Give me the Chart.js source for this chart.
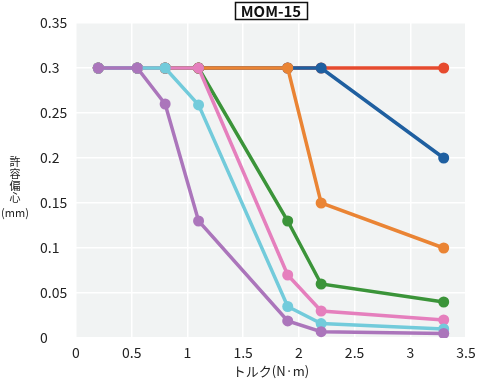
<!DOCTYPE html>
<html>
<head>
<meta charset="utf-8">
<script src="https://cdn.jsdelivr.net/npm/chart.js@4.4.1/dist/chart.umd.min.js"></script>
<style>
html,body{margin:0;padding:0;background:#fff;}
#wrap{position:relative;width:477px;height:381px;}
</style>
</head>
<body>
<div id="wrap"><canvas id="c" width="477" height="381"></canvas></div>
<script>
const torque = [0.2, 0.55, 0.8, 1.1, 1.9, 2.2, 3.3];
const seriesNames = ['A', 'B', 'C', 'D', 'E', 'F', 'G'];
const purpleVals = [0.3, 0.3, 0.26, 0.13, 0.019, 0.007, 0.005];
const cyanVals   = [0.3, 0.3, 0.3, 0.259, 0.035, 0.016, 0.01];
const pinkVals   = [0.3, 0.3, 0.3, 0.3, 0.07, 0.03, 0.02];
const greenVals  = [0.3, 0.3, 0.3, 0.3, 0.13, 0.06, 0.04];
const orangeVals = [0.3, 0.3, 0.3, 0.3, 0.3, 0.15, 0.1];
const blueVals   = [0.3, 0.3, 0.3, 0.3, 0.3, 0.3, 0.2];
const redVals    = [0.3, 0.3, 0.3, 0.3, 0.3, 0.3, 0.3];
const chartTitle = 'MOM-15';
const xTitle = 'トルク(N·m)';
const yTitleChars = ['許', '容', '偏', '心', '(mm)'];

const FONT = "'Noto Sans CJK JP', 'Noto Sans', sans-serif";
const colors = ['#ab75bb', '#72cbdb', '#e57fbd', '#3b9439', '#ea8434', '#1f5fa0', '#e64a2e'];
const allVals = [purpleVals, cyanVals, pinkVals, greenVals, orangeVals, blueVals, redVals];

const datasets = allVals.map((vals, i) => ({
  label: seriesNames[i],
  data: torque.map((x, j) => ({x: x, y: vals[j]})),
  borderColor: colors[i],
  backgroundColor: colors[i],
  borderWidth: 3.5,
  pointRadius: 5.5,
  pointHoverRadius: 5.5,
  pointBorderWidth: 0,
  tension: 0
}));

const decor = {
  id: 'decor',
  beforeDraw(chart) {
    const {ctx, chartArea: a} = chart;
    ctx.save();
    ctx.fillStyle = '#f1f3f3';
    ctx.fillRect(a.left, a.top, a.right - a.left, a.bottom - a.top);
    ctx.restore();
  },
  afterDraw(chart) {
    const {ctx, chartArea: a} = chart;
    ctx.save();
    // title box
    ctx.font = "bold 15px " + FONT;
    const cx = (a.left + a.right) / 2;
    const w = ctx.measureText(chartTitle).width;
    ctx.fillStyle = '#fff';
    ctx.strokeStyle = '#111';
    ctx.lineWidth = 1.5;
    const bx = Math.round(cx - w / 2 - 6) + 0.5, by = 2.5, bw = Math.round(w + 12), bh = 17;
    ctx.fillRect(bx, by, bw, bh);
    ctx.strokeRect(bx, by, bw, bh);
    ctx.fillStyle = '#111';
    ctx.textAlign = 'center';
    ctx.textBaseline = 'middle';
    ctx.fillText(chartTitle, cx, by + bh / 2 + 0.5);
    // x title
    ctx.font = "13px " + FONT;
    ctx.fillStyle = '#222';
    ctx.fillText(xTitle, cx, 371);
    // y title stacked
    ctx.font = "11px " + FONT;
    let y = 162;
    yTitleChars.forEach((ch, i) => {
      if (ch.length > 1) { y += 3; }
      ctx.fillText(ch, 15, y);
      y += 12;
    });
    ctx.restore();
  }
};

new Chart(document.getElementById('c'), {
  type: 'line',
  data: {datasets},
  plugins: [decor],
  options: {
    responsive: false,
    animation: false,
    devicePixelRatio: 1,
    layout: {padding: {left: 40, right: 11, top: 23, bottom: 0}},
    plugins: {legend: {display: false}, tooltip: {enabled: false}, title: {display: false}},
    scales: {
      x: {
        type: 'linear',
        min: 0, max: 3.5,
        border: {display: false},
        grid: {color: '#ffffff', lineWidth: 1.5, drawTicks: false},
        ticks: {stepSize: 0.5, padding: 6, color: '#222', font: {family: FONT, size: 14}, maxRotation: 0,
          callback: v => String(Math.round(v * 10) / 10)},
        afterFit: s => { s.height = 43; s.paddingLeft = 0; s.paddingRight = 0; }
      },
      y: {
        type: 'linear',
        min: 0, max: 0.35,
        border: {display: false},
        grid: {color: '#ffffff', lineWidth: 1.5, drawTicks: false},
        ticks: {stepSize: 0.05, crossAlign: 'far', padding: 4, color: '#222', font: {family: FONT, size: 14},
          callback: v => String(Math.round(v * 100) / 100)},
        afterFit: s => { s.width = 36; s.paddingTop = 0; s.paddingBottom = 0; }
      }
    }
  }
});
</script>
</body>
</html>
